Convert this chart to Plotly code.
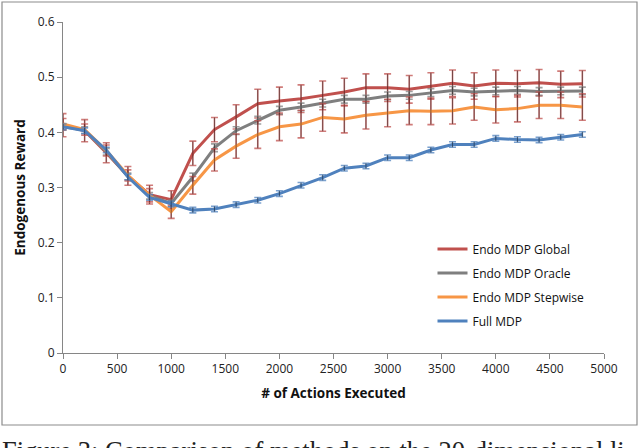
import plotly.graph_objects as go

actions = [0, 200, 400, 600, 800, 1000, 1200, 1400, 1600, 1800, 2000, 2200, 2400,
           2600, 2800, 3000, 3200, 3400, 3600, 3800, 4000, 4200, 4400, 4600, 4800]

endo_global = [0.413, 0.403, 0.363, 0.321, 0.287, 0.278, 0.362, 0.405, 0.428, 0.452, 0.457,
               0.461, 0.467, 0.473, 0.481, 0.481, 0.478, 0.484, 0.489, 0.484, 0.489, 0.488,
               0.490, 0.487, 0.488]
endo_global_err = [0.021, 0.020, 0.018, 0.017, 0.017, 0.016, 0.022, 0.022, 0.022, 0.026, 0.025,
                   0.025, 0.026, 0.025, 0.025, 0.025, 0.025, 0.024, 0.024, 0.024, 0.024, 0.024,
                   0.024, 0.024, 0.024]

endo_oracle = [0.410, 0.404, 0.365, 0.320, 0.285, 0.271, 0.319, 0.372, 0.403, 0.422, 0.440,
               0.446, 0.453, 0.460, 0.460, 0.466, 0.467, 0.472, 0.476, 0.473, 0.475, 0.476,
               0.474, 0.475, 0.475]
endo_oracle_err = [0.006, 0.006, 0.006, 0.006, 0.006, 0.006, 0.007, 0.007, 0.007, 0.007, 0.007,
                   0.007, 0.007, 0.007, 0.007, 0.007, 0.007, 0.007, 0.007, 0.007, 0.007, 0.007,
                   0.007, 0.007, 0.007]

endo_stepwise = [0.415, 0.405, 0.367, 0.322, 0.286, 0.256, 0.304, 0.350, 0.375, 0.396, 0.410,
                 0.415, 0.427, 0.424, 0.431, 0.435, 0.439, 0.438, 0.439, 0.446, 0.441, 0.443,
                 0.449, 0.449, 0.446]
endo_stepwise_err = [0.010, 0.010, 0.010, 0.010, 0.012, 0.012, 0.016, 0.020, 0.022, 0.025, 0.025,
                     0.025, 0.025, 0.025, 0.025, 0.025, 0.025, 0.024, 0.024, 0.024, 0.024, 0.024,
                     0.024, 0.024, 0.024]

full_mdp = [0.410, 0.403, 0.368, 0.319, 0.282, 0.270, 0.259, 0.261, 0.269, 0.277, 0.289,
            0.304, 0.318, 0.335, 0.339, 0.354, 0.354, 0.368, 0.378, 0.378, 0.389, 0.387,
            0.386, 0.391, 0.396]
full_mdp_err = [0.005] * len(actions)

series_names = ["Endo MDP Global", "Endo MDP Oracle", "Endo MDP Stepwise", "Full MDP"]
y_ticks = [0, 0.1, 0.2, 0.3, 0.4, 0.5, 0.6]
y_tick_labels = ["0", "0.1", "0.2", "0.3", "0.4", "0.5", "0.6"]
x_ticks = [0, 500, 1000, 1500, 2000, 2500, 3000, 3500, 4000, 4500, 5000]

x_title = "# of Actions Executed"
y_title = "Endogenous Reward"
caption = "Figure 3: Comparison of methods on the 20-dimensional li"

series = [
    (series_names[0], endo_global, endo_global_err, "#C0504D", "rgba(192,80,77,0.75)"),
    (series_names[1], endo_oracle, endo_oracle_err, "#7F7F7F", "rgba(127,127,127,0.75)"),
    (series_names[2], endo_stepwise, endo_stepwise_err, "#F79646", "rgba(192,80,77,0.75)"),
    (series_names[3], full_mdp, full_mdp_err, "#4F81BD", "rgba(79,129,189,0.75)"),
]

fig = go.Figure()
for i, (name, ys, errs, color, ecolor) in enumerate(series):
    fig.add_trace(go.Scatter(
        x=actions, y=ys, mode="lines", name=name, legendgroup=name,
        line=dict(color=color, width=3),
        error_y=dict(type="data", array=errs, visible=True, color=ecolor,
                     thickness=1.6, width=3.5),
    ))
    fig.add_trace(go.Scatter(
        x=actions, y=ys, mode="markers", showlegend=False, hoverinfo="skip",
        legendgroup=name,
        marker=dict(size=1, color="rgba(0,0,0,0)"),
        error_y=dict(type="data", array=errs, visible=True,
                     color="rgba(0,0,0,0.55)", thickness=0.8, width=0),
    ))

axis_font = dict(family="Open Sans, Liberation Sans, sans-serif", size=12, color="#222")
title_font = dict(family="Open Sans, sans-serif", size=13.5, color="#111")

fig.update_layout(
    width=640, height=448,
    margin=dict(l=63, r=36, t=22, b=95),
    paper_bgcolor="white", plot_bgcolor="white",
    showlegend=True,
    legend=dict(x=0.683, y=0.358, xanchor="left", yanchor="top",
                bgcolor="rgba(0,0,0,0)",
                font=dict(family="Open Sans, sans-serif", size=12, color="#111"),
                traceorder="grouped", tracegroupgap=5, itemwidth=30),
    xaxis=dict(range=[0, 5000], tickvals=x_ticks, ticktext=[str(v) for v in x_ticks],
               showgrid=False, zeroline=False, showline=True, linecolor="#868686", linewidth=1,
               ticks="outside", ticklen=5, tickcolor="#868686", tickfont=axis_font,
               automargin=False,
               title=dict(text="<b>" + x_title + "</b>", font=title_font, standoff=12)),
    yaxis=dict(range=[0, 0.6], tickvals=y_ticks, ticktext=y_tick_labels,
               showgrid=False, zeroline=False, showline=True, linecolor="#868686", linewidth=1,
               ticks="outside", ticklen=5, tickcolor="#868686", tickfont=axis_font,
               automargin=False,
               title=dict(text="<b>" + y_title + "</b>", font=title_font, standoff=8)),
    shapes=[dict(type="rect", xref="paper", yref="paper",
                 x0=(2 - 63) / 541, x1=(637 - 63) / 541,
                 y0=(353 - 425) / 331, y1=(353 - 2) / 331,
                 line=dict(color="#8C8C8C", width=1.2), fillcolor="rgba(0,0,0,0)", layer="below")],
    annotations=[dict(text=caption, xref="paper", yref="paper",
                      x=(0 - 63) / 541, y=(353 - 434) / 331, xanchor="left", yanchor="top",
                      showarrow=False,
                      font=dict(family="Liberation Serif, Times New Roman, serif", size=26.5, color="#222"))],
)

fig.write_html("out.html", config={"displayModeBar": False},
               post_script="document.body.style.margin='0';")
